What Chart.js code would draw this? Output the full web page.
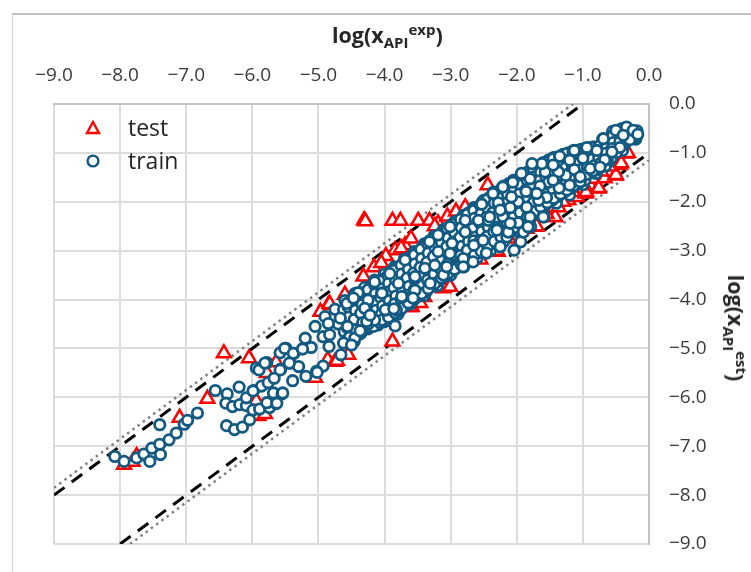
<!DOCTYPE html>
<html>
<head>
<meta charset="utf-8">
<script src="https://cdn.jsdelivr.net/npm/chart.js@4/dist/chart.umd.min.js"></script>
<style>
  html, body { margin: 0; padding: 0; background: #fff; }
  #page { position: relative; width: 751px; height: 572px; overflow: hidden; font-family: "Open Sans", sans-serif; color: #262626; }
  #frame { position: absolute; left: 12px; top: 13px; right: 0; bottom: 0; border-left: 1px solid #cfcfcf; border-top: 2px solid #bfbfbf; }
  #chart { position: absolute; left: 0; top: 0; }
  .axis-title { position: absolute; font-size: 21.5px; font-weight: 700; white-space: nowrap; line-height: 24px; }
  .axis-title sub, .axis-title sup { font-size: 15px; line-height: 0; }
  #title-x { left: 332px; top: 23px; }
  #title-y { left: 736px; top: 328px; transform: translate(-50%, -50%) rotate(90deg); }
  #legend { position: absolute; left: 84px; top: 111px; font-size: 23px; line-height: 33px; }
  #legend div { display: flex; align-items: center; height: 33px; }
  #legend svg { width: 18px; height: 18px; margin-right: 26px; }
</style>
</head>
<body>
<div id="page">
  <div id="frame"></div>
  <canvas id="chart" width="751" height="572"></canvas>
  <div class="axis-title" id="title-x">log(x<sub>API</sub><sup>exp</sup>)</div>
  <div class="axis-title" id="title-y">log(x<sub>API</sub><sup>est</sup>)</div>
  <div id="legend">
    <div><svg viewBox="0 0 18 18"><path d="M9 3 L15 14 L3 14 Z" fill="#fff" stroke="#ff0000" stroke-width="2.4"/></svg>test</div>
    <div><svg viewBox="0 0 18 18"><circle cx="9" cy="9" r="5.4" fill="#fff" stroke="#125a82" stroke-width="2.4"/></svg>train</div>
  </div>
</div>
<script>
// values, [log x exp, log x est]
const tickValues = [-9, -8, -7, -6, -5, -4, -3, -2, -1, 0];

const upperDash = [[-9, -8], [-1, 0]];
const lowerDash = [[-8, -9], [0, -1]];
const upperDot = [[-9, -7.85], [-1.15, 0]];
const lowerDot = [[-7.85, -9], [0, -1.15]];

const testUpper = [
  [-6.43,-5.10],[-6.05,-5.20],[-6.68,-6.03],[-7.10,-6.42],[-5.64,-5.28],[-5.78,-5.50],
  [-4.31,-2.38],[-4.29,-2.40],[-3.88,-2.39],[-3.76,-2.39],[-3.49,-2.39],[-3.32,-2.39],
  [-3.69,-2.89],[-3.84,-2.99],[-3.98,-3.11],[-4.16,-3.34],[-4.32,-3.53],[-3.19,-2.44],
  [-3.24,-2.50],[-2.78,-2.11],[-2.44,-1.66],[-4.85,-4.11],[-4.97,-4.25],[-4.83,-4.09],
  [-3.75,-2.95],[-3.60,-2.75],[-3.05,-2.30],[-2.92,-2.20],[-4.05,-3.25],[-4.60,-3.90]
];
const testLower = [
  [-7.94,-7.38],[-7.81,-7.32],[-7.75,-7.20],[-5.84,-6.32],[-5.91,-6.38],[-5.81,-6.34],
  [-5.94,-6.07],[-5.05,-5.60],[-4.86,-5.23],[-4.75,-5.27],[-4.72,-5.25],[-4.55,-5.13],
  [-3.88,-4.86],[-4.52,-4.74],[-4.50,-4.72],[-4.04,-4.45],[-3.59,-4.15],[-3.46,-4.07],
  [-3.62,-4.15],[-3.40,-3.95],[-3.06,-3.74],[-3.11,-3.77],[-3.01,-3.74],[-2.29,-3.02],
  [-2.30,-3.00],[-2.12,-2.75],[-1.71,-2.51],[-1.70,-2.50],[-1.43,-2.31],[-1.42,-2.31],
  [-1.37,-2.11],[-1.22,-1.97],[-1.09,-1.90],[-0.96,-1.83],[-0.95,-1.80],[-0.89,-1.66],
  [-0.84,-1.53],[-0.77,-1.73],[-0.76,-1.72],[-0.67,-1.52],[-0.51,-1.46],[-0.50,-1.45],
  [-0.44,-1.25],[-0.42,-1.21],[-0.35,-1.01],[-0.32,-1.00],[-1.30,-2.00],[-1.15,-1.80],
  [-1.00,-1.62],[-0.72,-1.38],[-0.60,-1.28],[-1.55,-2.25],[-1.85,-2.55],[-2.55,-3.18]
];

const trainTail = [
  [-8.08,-7.21],[-7.94,-7.31],[-7.75,-7.24],[-7.64,-7.16],[-7.52,-7.04],[-7.55,-7.31],
  [-7.39,-7.17],[-7.40,-6.96],[-7.26,-6.87],[-7.15,-6.73],[-7.40,-6.56],[-7.03,-6.55],
  [-6.98,-6.47],[-6.83,-6.32],[-6.56,-5.86],[-6.38,-5.93],[-6.20,-5.79],[-6.40,-6.12],
  [-6.30,-6.19],[-6.19,-6.15],[-6.09,-6.17],[-6.09,-6.01],[-6.39,-6.58],[-6.27,-6.66],
  [-6.15,-6.61],[-6.04,-6.46],[-5.98,-5.86],[-5.86,-5.77],[-5.76,-5.70],[-5.99,-6.26],
  [-5.89,-6.24],[-5.74,-6.21],[-5.64,-6.13],[-5.78,-6.11],[-5.68,-5.91],[-5.55,-5.93],
  [-5.67,-5.61],[-5.57,-5.42],[-5.39,-5.66],[-5.94,-5.40],[-5.90,-5.44],[-5.78,-5.29],
  [-5.58,-5.09],[-5.49,-5.00],[-5.43,-5.30],[-5.37,-5.10]
];
const trainEdges = [
  [-4.90,-4.35],[-4.75,-4.20],[-4.60,-4.02],[-4.45,-3.88],[-4.30,-3.75],[-4.15,-3.60],
  [-4.00,-3.48],[-3.85,-3.33],[-3.70,-3.17],[-3.55,-3.02],[-3.40,-2.86],[-3.25,-2.70],
  [-3.10,-2.56],[-2.95,-2.42],[-2.80,-2.27],[-2.65,-2.12],[-2.50,-1.97],[-2.35,-1.80],
  [-2.20,-1.68],[-2.05,-1.56],[-1.90,-1.43],[-1.75,-1.30],[-1.60,-1.20],[-1.45,-1.10],
  [-1.30,-1.03],[-1.15,-0.96],[-1.00,-0.92],[-0.85,-0.88],[-0.70,-0.72],[-0.55,-0.56],
  [-4.40,-4.72],[-4.25,-4.60],[-4.10,-4.52],[-4.00,-4.45],[-3.80,-4.30],[-3.60,-4.08],
  [-3.40,-3.92],[-3.20,-3.72],[-3.00,-3.50],[-2.80,-3.33],[-2.60,-3.15],[-2.40,-3.00],
  [-2.20,-2.82],[-2.00,-2.60],[-1.80,-2.35],[-1.60,-2.20],[-1.40,-2.03],[-1.20,-1.86],
  [-1.00,-1.65],[-0.80,-1.42],[-0.60,-1.18],[-0.40,-0.95],[-0.20,-0.72],
  [-2.04,-2.99],[-1.94,-2.82],[-1.79,-2.51],[-1.59,-2.31]
];
const trainFill = [
  [-4.70,-4.50],[-4.55,-4.35],[-4.40,-4.20],[-4.25,-3.95],[-4.10,-3.80],[-3.95,-3.70],
  [-3.80,-3.60],[-3.65,-3.45],[-3.50,-3.25],[-3.35,-3.05],[-3.20,-2.90],[-3.05,-2.75],
  [-2.90,-2.60],[-2.75,-2.50],[-2.60,-2.30],[-2.45,-2.15],[-2.30,-1.95],[-2.15,-1.85],
  [-2.00,-1.75],[-1.85,-1.65],[-1.70,-1.50],[-1.55,-1.38],[-1.40,-1.25],[-1.25,-1.18],
  [-4.25,-4.30],[-4.10,-4.15],[-3.95,-3.95],[-3.80,-3.85],[-3.65,-3.70],[-3.50,-3.60],
  [-3.35,-3.50],[-3.20,-3.25],[-3.05,-3.15],[-2.90,-2.95],[-2.75,-2.85],[-2.60,-2.70],
  [-2.45,-2.60],[-2.30,-2.40],[-2.15,-2.25],[-2.00,-2.15],[-1.85,-1.95],[-1.70,-1.75],
  [-1.55,-1.62],[-1.40,-1.50],[-1.25,-1.40],[-1.10,-1.22],[-0.95,-1.10],[-0.80,-1.05],
  [-3.95,-4.30],[-3.75,-4.10],[-3.55,-3.85],[-3.40,-3.70],[-3.25,-3.45],[-3.10,-3.30],
  [-2.95,-3.20],[-2.70,-3.00],[-2.50,-2.85],[-2.35,-2.70],[-2.15,-2.50],[-1.95,-2.30],
  [-1.75,-2.10],[-1.50,-1.85],[-1.30,-1.70],[-1.10,-1.55],[-0.90,-1.35],[-0.70,-1.20]
];
const trainDense = [
  [-4.62,-4.21],[-4.58,-4.42],[-4.61,-4.66],[-4.57,-4.83],
  [-4.52,-4.11],[-4.49,-4.29],[-4.51,-4.47],[-4.48,-4.71],[-4.46,-4.86],
  [-4.41,-3.96],[-4.38,-4.14],[-4.42,-4.34],[-4.39,-4.51],[-4.36,-4.69],
  [-4.31,-3.86],[-4.28,-4.06],[-4.33,-4.23],[-4.29,-4.41],[-4.27,-4.57],
  [-4.22,-3.74],[-4.19,-3.93],[-4.21,-4.09],[-4.18,-4.26],[-4.23,-4.43],[-4.17,-4.55],
  [-4.12,-3.66],[-4.08,-3.83],[-4.11,-4.01],[-4.09,-4.19],[-4.13,-4.34],[-4.07,-4.47],
  [-4.02,-3.58],[-3.98,-3.72],[-4.01,-3.91],[-3.99,-4.07],[-4.03,-4.24],[-3.97,-4.38],
  [-3.92,-3.44],[-3.89,-3.62],[-3.93,-3.79],[-3.88,-3.98],[-3.91,-4.13],[-3.87,-4.32],
  [-3.82,-3.36],[-3.79,-3.54],[-3.83,-3.72],[-3.78,-3.89],[-3.81,-4.04],[-3.77,-4.23],
  [-3.72,-3.25],[-3.68,-3.43],[-3.71,-3.61],[-3.69,-3.79],[-3.73,-3.95],[-3.67,-4.12],
  [-3.62,-3.14],[-3.58,-3.32],[-3.61,-3.51],[-3.59,-3.68],[-3.63,-3.87],[-3.57,-4.02],
  [-3.52,-3.05],[-3.49,-3.22],[-3.53,-3.41],[-3.48,-3.58],[-3.51,-3.75],[-3.47,-3.92],
  [-3.42,-2.92],[-3.39,-3.12],[-3.41,-3.29],[-3.38,-3.47],[-3.43,-3.63],[-3.37,-3.84],
  [-3.32,-2.80],[-3.28,-2.99],[-3.31,-3.18],[-3.29,-3.36],[-3.33,-3.56],[-3.27,-3.73],
  [-3.22,-2.71],[-3.18,-2.87],[-3.21,-3.07],[-3.19,-3.23],[-3.23,-3.42],[-3.17,-3.61],
  [-3.12,-2.60],[-3.08,-2.79],[-3.11,-2.97],[-3.09,-3.14],[-3.13,-3.33],[-3.07,-3.52],
  [-3.02,-2.51],[-2.98,-2.69],[-3.01,-2.88],[-2.99,-3.04],[-3.03,-3.24],[-2.97,-3.41],
  [-2.92,-2.40],[-2.89,-2.59],[-2.93,-2.77],[-2.88,-2.96],[-2.91,-3.14],[-2.87,-3.33],
  [-2.82,-2.31],[-2.79,-2.48],[-2.83,-2.69],[-2.78,-2.86],[-2.81,-3.05],[-2.77,-3.24],
  [-2.72,-2.22],[-2.68,-2.39],[-2.71,-2.58],[-2.69,-2.76],[-2.73,-2.94],[-2.67,-3.15],
  [-2.62,-2.13],[-2.58,-2.29],[-2.61,-2.49],[-2.59,-2.68],[-2.63,-2.85],[-2.57,-3.04],
  [-2.52,-2.01],[-2.49,-2.19],[-2.53,-2.37],[-2.48,-2.56],[-2.51,-2.74],[-2.47,-2.96],
  [-2.42,-1.92],[-2.39,-2.09],[-2.43,-2.27],[-2.38,-2.47],[-2.41,-2.66],[-2.37,-2.86],
  [-2.32,-1.83],[-2.28,-1.98],[-2.31,-2.18],[-2.29,-2.37],[-2.33,-2.56],[-2.27,-2.76],
  [-2.22,-1.71],[-2.18,-1.89],[-2.21,-2.08],[-2.19,-2.27],[-2.23,-2.46],[-2.17,-2.68],
  [-2.12,-1.63],[-2.08,-1.79],[-2.11,-1.98],[-2.09,-2.18],[-2.13,-2.37],[-2.07,-2.58],
  [-2.02,-1.56],[-1.98,-1.71],[-2.01,-1.89],[-1.99,-2.08],[-2.03,-2.27],[-1.97,-2.48],
  [-1.92,-1.46],[-1.89,-1.62],[-1.93,-1.79],[-1.88,-1.98],[-1.91,-2.17],[-1.87,-2.37],
  [-1.82,-1.38],[-1.79,-1.53],[-1.83,-1.71],[-1.78,-1.88],[-1.81,-2.07],[-1.77,-2.27],
  [-1.72,-1.29],[-1.68,-1.44],[-1.71,-1.62],[-1.69,-1.79],[-1.73,-1.97],[-1.67,-2.14],
  [-1.62,-1.24],[-1.58,-1.37],[-1.61,-1.53],[-1.59,-1.71],[-1.63,-1.88],[-1.57,-2.07],
  [-1.52,-1.15],[-1.48,-1.31],[-1.51,-1.46],[-1.49,-1.63],[-1.53,-1.79],[-1.47,-1.97],
  [-1.42,-1.09],[-1.38,-1.23],[-1.41,-1.39],[-1.39,-1.55],[-1.43,-1.71],[-1.37,-1.89],
  [-1.32,-1.05],[-1.28,-1.19],[-1.31,-1.32],[-1.29,-1.47],[-1.33,-1.63],[-1.27,-1.79],
  [-1.22,-1.00],[-1.18,-1.13],[-1.21,-1.27],[-1.19,-1.41],[-1.23,-1.56],[-1.17,-1.72],
  [-1.12,-0.96],[-1.08,-1.09],[-1.11,-1.24],[-1.09,-1.37],[-1.13,-1.49],[-1.07,-1.63],
  [-1.02,-0.93],[-0.98,-1.04],[-1.01,-1.18],[-0.99,-1.31],[-1.03,-1.44],[-0.97,-1.56],
  [-0.92,-0.90],[-0.88,-1.01],[-0.91,-1.14],[-0.89,-1.27],[-0.87,-1.41],
  [-0.82,-0.88],[-0.78,-0.99],[-0.81,-1.12],[-0.79,-1.24],[-0.77,-1.34],
  [-0.72,-0.83],[-0.68,-0.92],[-0.71,-1.05],[-0.69,-1.17],[-0.66,-1.27],
  [-0.62,-0.74],[-0.58,-0.67],[-0.61,-0.86],[-0.59,-0.99],[-0.57,-1.11],
  [-0.52,-0.62],[-0.48,-0.74],[-0.51,-0.88],[-0.49,-0.99],
  [-0.42,-0.51],[-0.38,-0.56],[-0.41,-0.72],[-0.37,-0.82],[-0.31,-0.53],[-0.28,-0.63],[-0.22,-0.68],[-0.18,-0.55]
];
const trainDense2 = [
  [-4.55,-4.15],[-4.54,-4.36],[-4.56,-4.58],[-4.53,-4.77],
  [-4.45,-4.03],[-4.44,-4.22],[-4.46,-4.41],[-4.43,-4.62],[-4.45,-4.79],
  [-4.35,-3.92],[-4.34,-4.10],[-4.36,-4.28],[-4.33,-4.47],[-4.35,-4.63],
  [-4.25,-3.80],[-4.24,-3.99],[-4.26,-4.16],[-4.23,-4.33],[-4.25,-4.50],
  [-4.15,-3.70],[-4.14,-3.88],[-4.16,-4.04],[-4.13,-4.22],[-4.15,-4.39],
  [-4.05,-3.62],[-4.04,-3.78],[-4.06,-3.96],[-4.03,-4.13],[-4.05,-4.30],[-4.04,-4.42],
  [-3.95,-3.51],[-3.94,-3.67],[-3.96,-3.85],[-3.93,-4.02],[-3.95,-4.19],[-3.94,-4.36],
  [-3.85,-3.40],[-3.84,-3.58],[-3.86,-3.76],[-3.83,-3.93],[-3.85,-4.09],[-3.84,-4.27],
  [-3.75,-3.30],[-3.74,-3.48],[-3.76,-3.66],[-3.73,-3.84],[-3.75,-4.00],[-3.74,-4.18],
  [-3.65,-3.20],[-3.64,-3.38],[-3.66,-3.56],[-3.63,-3.73],[-3.65,-3.91],[-3.64,-4.07],
  [-3.55,-3.09],[-3.54,-3.27],[-3.56,-3.46],[-3.53,-3.63],[-3.55,-3.80],[-3.54,-3.98],
  [-3.45,-2.97],[-3.44,-3.16],[-3.46,-3.34],[-3.43,-3.52],[-3.45,-3.70],[-3.44,-3.88],
  [-3.35,-2.86],[-3.34,-3.05],[-3.36,-3.24],[-3.33,-3.42],[-3.35,-3.60],[-3.34,-3.78],
  [-3.25,-2.76],[-3.24,-2.93],[-3.26,-3.12],[-3.23,-3.29],[-3.25,-3.48],[-3.24,-3.67],
  [-3.15,-2.66],[-3.14,-2.83],[-3.16,-3.02],[-3.13,-3.19],[-3.15,-3.38],[-3.14,-3.56],
  [-3.05,-2.55],[-3.04,-2.74],[-3.06,-2.92],[-3.03,-3.09],[-3.05,-3.28],[-3.04,-3.46],
  [-2.95,-2.46],[-2.94,-2.64],[-2.96,-2.82],[-2.93,-3.00],[-2.95,-3.09],[-2.94,-3.38],
  [-2.85,-2.36],[-2.84,-2.53],[-2.86,-2.73],[-2.83,-2.91],[-2.85,-3.10],[-2.84,-3.29],
  [-2.75,-2.26],[-2.74,-2.44],[-2.76,-2.63],[-2.73,-2.81],[-2.75,-2.99],[-2.74,-3.19],
  [-2.65,-2.18],[-2.64,-2.34],[-2.66,-2.54],[-2.63,-2.72],[-2.65,-2.80],[-2.64,-3.09],
  [-2.55,-2.07],[-2.54,-2.24],[-2.56,-2.43],[-2.53,-2.61],[-2.55,-2.79],[-2.54,-3.01],
  [-2.45,-1.96],[-2.44,-2.13],[-2.46,-2.32],[-2.43,-2.52],[-2.45,-2.71],[-2.44,-2.91],
  [-2.35,-1.87],[-2.34,-2.03],[-2.36,-2.22],[-2.33,-2.42],[-2.35,-2.61],[-2.34,-2.81],
  [-2.25,-1.77],[-2.24,-1.93],[-2.26,-2.13],[-2.23,-2.32],[-2.25,-2.51],[-2.24,-2.72],
  [-2.15,-1.67],[-2.14,-1.84],[-2.16,-2.03],[-2.13,-2.23],[-2.15,-2.42],[-2.14,-2.62],
  [-2.05,-1.59],[-2.04,-1.75],[-2.06,-1.94],[-2.03,-2.13],[-2.05,-2.32],[-2.04,-2.53],
  [-1.95,-1.50],[-1.94,-1.66],[-1.96,-1.84],[-1.93,-2.03],[-1.95,-2.22],[-1.94,-2.42],
  [-1.85,-1.42],[-1.84,-1.57],[-1.86,-1.75],[-1.83,-1.93],[-1.85,-2.12],[-1.84,-2.31],
  [-1.75,-1.33],[-1.74,-1.49],[-1.76,-1.66],[-1.73,-1.84],[-1.75,-2.02],[-1.74,-2.20],
  [-1.65,-1.26],[-1.64,-1.40],[-1.66,-1.57],[-1.63,-1.75],[-1.65,-1.93],[-1.64,-2.10],
  [-1.55,-1.19],[-1.54,-1.34],[-1.56,-1.49],[-1.53,-1.67],[-1.55,-1.84],[-1.54,-2.02],
  [-1.45,-1.12],[-1.44,-1.27],[-1.46,-1.42],[-1.43,-1.59],[-1.45,-1.75],[-1.44,-1.93],
  [-1.35,-1.07],[-1.34,-1.21],[-1.36,-1.35],[-1.33,-1.51],[-1.35,-1.67],[-1.34,-1.84],
  [-1.25,-1.02],[-1.24,-1.16],[-1.26,-1.30],[-1.23,-1.44],[-1.25,-1.60],[-1.24,-1.76],
  [-1.15,-0.98],[-1.14,-1.11],[-1.16,-1.26],[-1.13,-1.39],[-1.15,-1.52],[-1.14,-1.67],
  [-1.05,-0.94],[-1.04,-1.06],[-1.06,-1.21],[-1.03,-1.34],[-1.05,-1.47],[-1.04,-1.59],
  [-0.95,-0.91],[-0.94,-1.03],[-0.96,-1.17],[-0.93,-1.29],[-0.95,-1.44],
  [-0.85,-0.89],[-0.84,-1.00],[-0.86,-1.13],[-0.83,-1.26],[-0.85,-1.37],
  [-0.75,-0.86],[-0.74,-0.97],[-0.76,-1.09],[-0.73,-1.21],
  [-0.65,-0.78],[-0.64,-0.89],[-0.66,-1.01],[-0.63,-1.14],
  [-0.55,-0.66],[-0.54,-0.79],[-0.56,-0.91],[-0.45,-0.59],[-0.44,-0.77],[-0.35,-0.60],[-0.33,-0.75]
];
const trainHoles = [
  [-5.81,-5.30],[-5.51,-5.00],[-5.38,-5.10],[-5.24,-5.01],[-5.11,-4.98],[-5.20,-4.79],
  [-5.05,-4.55],[-4.93,-4.76],[-4.83,-4.72],[-4.84,-4.96],[-4.62,-4.89],[-4.50,-4.93],
  [-4.37,-4.64],[-4.56,-4.55],[-4.67,-4.38],[-4.85,-4.49],[-4.57,-4.08],[-4.47,-3.96],
  [-4.40,-3.86],[-4.15,-3.64],[-4.04,-3.87],[-3.98,-4.21],[-4.15,-4.42],[-3.84,-4.54],
  [-4.66,-5.13],[-4.93,-5.36],[-5.03,-5.47],[-5.30,-5.37],[-5.44,-5.30],[-5.58,-5.44],
  [-5.19,-5.57],[-5.02,-5.49],[-5.54,-5.91],[-5.63,-6.12],[-5.99,-5.87],[-5.24,-5.01],
  [-3.92,-3.47],[-3.69,-3.19],[-3.72,-3.94],[-3.54,-3.81],[-3.79,-3.67],[-3.54,-3.57],
  [-3.82,-4.21],[-3.59,-3.94],[-4.27,-4.45],[-4.25,-4.01],[-4.30,-4.18],[-4.47,-3.97],
  [-3.32,-2.82],[-3.19,-2.68],[-3.01,-2.51],[-2.78,-2.38],[-2.53,-2.05],[-2.28,-2.04],
  [-2.58,-2.38],[-2.43,-2.38],[-2.30,-2.55],[-2.98,-2.85],[-2.65,-2.89],[-2.78,-2.62],
  [-3.19,-3.02],[-3.01,-3.06],[-2.81,-3.16],[-3.39,-3.36],[-3.54,-3.53],[-3.24,-3.30],
  [-3.11,-3.50],[-3.31,-3.67],[-3.54,-3.81],[-3.74,-3.94],[-4.04,-3.87],[-3.99,-4.21],
  [-3.86,-4.19],[-4.22,-4.32],[-3.57,-3.97],[-2.81,-3.33],[-3.06,-3.33],[-2.66,-3.23],
  [-2.46,-3.05],[-2.25,-2.92],[-2.15,-2.72],[-2.51,-2.79],[-2.30,-2.31],
  [-0.29,-0.73],[-0.44,-0.89],[-0.67,-1.14],[-0.69,-0.71],[-0.50,-0.54],[-0.34,-0.47],
  [-0.24,-0.54],[-0.17,-0.62],[-0.39,-0.64],[-1.13,-0.95],[-0.79,-0.95],[-0.94,-0.89],
  [-0.56,-0.98],[-0.89,-1.32],[-1.13,-1.34],[-1.20,-1.66],[-1.36,-1.72],[-1.26,-1.46],
  [-1.37,-1.39],[-1.35,-1.07],[-1.57,-1.39],[-1.62,-1.22],[-1.80,-1.53],[-1.52,-1.60],
  [-1.65,-1.68],[-1.86,-1.79],[-1.55,-1.91],[-1.67,-1.97],[-1.98,-2.00],[-2.10,-2.12],
  [-2.28,-2.02],[-2.21,-2.30],[-1.98,-2.43],[-1.80,-2.31],[-1.60,-2.31],[-2.30,-2.58],
  [-2.13,-2.62],[-1.90,-2.62],[-1.83,-2.51],[-2.06,-1.60],[-2.21,-1.70],[-1.93,-1.42],
  [-1.77,-1.22],[-1.00,-1.11],[-1.20,-1.15],[-0.74,-1.29],[-1.04,-1.49],[-1.45,-1.25],
  [-1.45,-1.56],[-1.70,-1.83],[-1.85,-2.11],[-2.08,-1.90],[-2.36,-1.83],[-2.25,-2.17],
  [-2.41,-2.31],[-2.10,-2.44]
];

const toXY = pts => pts.map(([x, y]) => ({ x, y }));
const trainPoints = [...trainTail, ...trainEdges, ...trainFill, ...trainDense, ...trainDense2, ...trainHoles];
const testPoints = [...testUpper, ...testLower];

const lineSet = (label, pts, color, width, dash) => ({
  type: 'scatter',
  label,
  data: toXY(pts),
  showLine: true,
  borderColor: color,
  borderWidth: width,
  borderDash: dash,
  pointRadius: 0,
  fill: false,
});

const axisOptions = (position, size) => ({
  type: 'linear',
  position,
  min: -9,
  max: 0,
  afterBuildTicks: scale => { scale.ticks = tickValues.map(value => ({ value })); },
  afterFit: scale => {
    if (position === 'top') {
      scale.height = size;
    } else {
      scale.width = size;
      // tick padding would otherwise be added above and below the axis
      scale.paddingTop = 0;
      scale.paddingBottom = 0;
    }
  },
  grid: { color: '#dcdcdc', lineWidth: 2, drawTicks: false },
  border: { color: '#c4c4c4', width: 2 },
  ticks: {
    color: '#3a3a3a',
    font: { family: "'Open Sans', sans-serif", size: 19 },
    padding: position === 'top' ? 17 : 20,
    maxRotation: 0,
    autoSkip: false,
    callback: v => v.toFixed(1).replace('-', '\u2212'),
  },
});

new Chart(document.getElementById('chart'), {
  type: 'scatter',
  data: {
    datasets: [
      {
        label: 'train',
        data: toXY(trainPoints),
        pointStyle: 'circle',
        pointRadius: 5.2,
        pointBorderWidth: 2.8,
        pointBorderColor: '#125a82',
        pointBackgroundColor: '#ffffff',
      },
      {
        label: 'test',
        data: toXY(testPoints),
        pointStyle: 'triangle',
        pointRadius: 8,
        pointBorderWidth: 2.5,
        pointBorderColor: '#ff0000',
        pointBackgroundColor: '#ffffff',
      },
      lineSet('upper dash', upperDash, '#000000', 3, [13, 9]),
      lineSet('lower dash', lowerDash, '#000000', 3, [13, 9]),
      lineSet('upper dot', upperDot, '#808080', 2.5, [2.5, 4]),
      lineSet('lower dot', lowerDot, '#808080', 2.5, [2.5, 4]),
    ],
  },
  options: {
    responsive: false,
    animation: false,
    layout: { padding: { left: 54, top: 0, right: 0, bottom: 28 } },
    plugins: { legend: { display: false }, tooltip: { enabled: false } },
    scales: {
      x: axisOptions('top', 104),
      y: axisOptions('right', 102),
    },
  },
});
</script>
</body>
</html>
